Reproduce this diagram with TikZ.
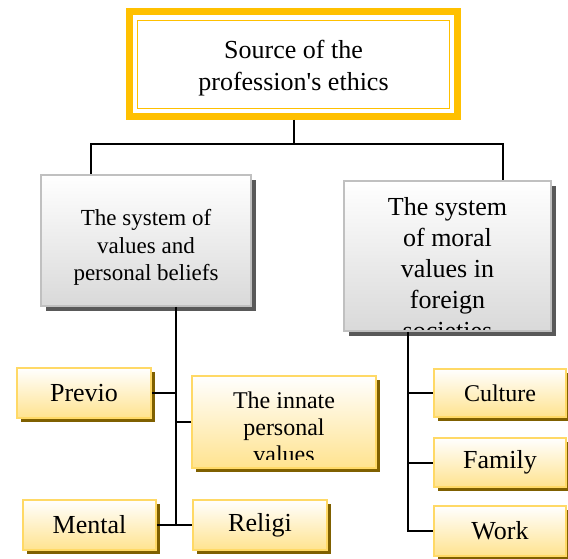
\documentclass[tikz,border=0pt]{standalone}
\usepackage{fontspec}
\setmainfont{Liberation Serif}
\usetikzlibrary{shadows}

\definecolor{srcgold}{HTML}{FFC000}
\definecolor{leafline}{HTML}{FFD966}
\definecolor{leaflow}{HTML}{FFE38F}
\definecolor{leafshade}{HTML}{7F6000}
\definecolor{sysline}{HTML}{C0C0C0}
\definecolor{syslow}{HTML}{D9D9D9}
\definecolor{sysshade}{HTML}{595959}

\tikzset{
  link/.style={line width=2pt},
  sysbox/.style={draw=sysline,line width=1.5pt,top color=white,bottom color=syslow,
    drop shadow={shadow xshift=5pt,shadow yshift=-5pt,fill=sysshade,opacity=1}},
  leafbox/.style={draw=leafline,line width=1.5pt,top color=white,bottom color=leaflow,
    drop shadow={shadow xshift=4pt,shadow yshift=-4pt,fill=leafshade,opacity=1},
    inner sep=0pt,font=\fontsize{26}{31}\selectfont},
  boxtext/.style={anchor=north,inner sep=0pt,align=center},
}

\begin{document}
\begin{tikzpicture}[x=1pt,y=-1pt]
	\useasboundingbox (0,0) rectangle (568,559);

	% source
	\node[draw=srcgold,line width=7pt,fill=white,minimum width=328pt,minimum height=105pt] (src) at (293.5,64) {};
	\draw[srcgold,line width=1.5pt] ([shift={(11.5pt,-12.5pt)}]src.north west) rectangle ([shift={(-11.5pt,11.5pt)}]src.south east);
	\node[boxtext,font=\fontsize{26}{32}\selectfont] (srctxt) at (293.5,40) {Source of the\\profession\textquotesingle s ethics};

	% the two systems
	\node[sysbox,minimum width=210pt,minimum height=131pt] (sysL) at (146,240.5) {};
	\node[boxtext,font=\fontsize{23}{27.7}\selectfont] (sysLtxt) at (146,209) {The system of\\values and\\personal beliefs};

	\node[sysbox,minimum width=207pt,minimum height=150pt] (sysR) at (447.5,256) {};
	\coordinate (cutR) at (0,329);
	\begin{scope}
		\clip (sysR.north west) rectangle (sysR.east |- cutR);
		\node[boxtext,font=\fontsize{26}{31}\selectfont] (sysRtxt) at (447.5,197) {The system\\of moral\\values in\\foreign\\societies};
	\end{scope}

	% leaves, left
	\node[leafbox,minimum width=134pt,minimum height=50pt] (previo) at (84,393) {Previo};
	\node[leafbox,minimum width=184pt,minimum height=92pt] (innate) at (284,422) {};
	\coordinate (cutI) at (0,459);
	\begin{scope}
		\clip (innate.north west) rectangle (innate.east |- cutI);
		\node[boxtext,font=\fontsize{24}{27}\selectfont] (innatetxt) at (284,392) {The innate\\personal\\values};
	\end{scope}
	\node[leafbox,minimum width=133pt,minimum height=50pt] (mental) at (89.5,525) {Mental};
	\node[leafbox,minimum width=134pt,minimum height=50pt] (religi) at (260,525) {Religi};

	% leaves, right
	\node[leafbox,minimum width=132pt,minimum height=48pt,font=\fontsize{24}{29}\selectfont] (culture) at (500,393) {Culture};
	\node[leafbox,minimum width=132pt,minimum height=49pt] (family) at (500,462.5) {Family};
	\node[leafbox,minimum width=132pt,minimum height=50pt] (work) at (500,531) {Work};

	% connectors
	\coordinate (jL) at (91,144);
	\coordinate (jR) at (503,144);
	\draw[link] (src.south) |- (jL) -- (jL |- sysL.north);
	\draw[link] (src.south) |- (jR) -- (jR |- sysR.north);

	\coordinate (tL) at (176,0);
	\draw[link] (tL |- sysL.south) -- (tL |- mental.east);
	\draw[link] (previo.east) -- (previo.east -| tL);
	\draw[link] (innate.west) -- (innate.west -| tL);
	\draw[link] (mental.east) -- (religi.west);

	\coordinate (tR) at (408,0);
	\draw[link] (tR |- sysR.south) |- (work.west);
	\draw[link] (culture.west -| tR) -- (culture.west);
	\draw[link] (family.west -| tR) -- (family.west);
\end{tikzpicture}
\end{document}
